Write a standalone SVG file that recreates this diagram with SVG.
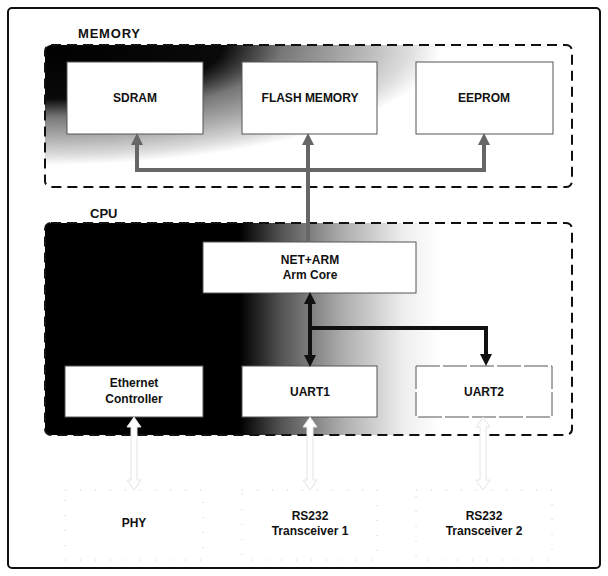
<svg xmlns="http://www.w3.org/2000/svg" width="608" height="576" viewBox="0 0 608 576">
<style>
.lbl{font-family:"Liberation Sans",Arial,sans-serif;font-weight:bold;font-size:12px;fill:#111;text-anchor:middle}
.grp{font-family:"Liberation Sans",Arial,sans-serif;font-weight:bold;font-size:13px;fill:#111}
.box{fill:#fff;stroke:#555;stroke-width:1}
.faint{fill:none;stroke:#ccc;stroke-width:1;stroke-dasharray:1,14}
.dash{stroke:#111;stroke-width:2;stroke-dasharray:10,6}
.busg{fill:none;stroke:#666;stroke-width:4}
.busb{fill:none;stroke:#111;stroke-width:4}
.hollow{fill:#fff;stroke:#e4e4e4;stroke-width:1}
</style>
<defs>
<radialGradient id="gMem" gradientUnits="userSpaceOnUse" cx="45" cy="45" r="120" gradientTransform="translate(45,45) scale(3.3,1) translate(-45,-45)">
<stop offset="0" stop-color="#000"/>
<stop offset="0.45" stop-color="#0a0a0a"/>
<stop offset="0.6" stop-color="#777"/>
<stop offset="0.8" stop-color="#b5b5b5"/>
<stop offset="0.92" stop-color="#ddd"/>
<stop offset="1" stop-color="#fff"/>
</radialGradient>
<linearGradient id="gCpu" x1="0" y1="0" x2="1" y2="0">
<stop offset="0" stop-color="#000"/>
<stop offset="0.37" stop-color="#000"/>
<stop offset="0.45" stop-color="#555"/>
<stop offset="0.56" stop-color="#aaa"/>
<stop offset="0.68" stop-color="#eee"/>
<stop offset="0.75" stop-color="#fff"/>
</linearGradient>
<marker id="ag" viewBox="0 0 12 12" markerUnits="userSpaceOnUse" markerWidth="12" markerHeight="12" refX="5" refY="6" orient="auto-start-reverse">
<path d="M0,0 L12,6 L0,12 z" fill="#666"/>
</marker>
<marker id="ab" viewBox="0 0 12 12" markerUnits="userSpaceOnUse" markerWidth="12" markerHeight="12" refX="5" refY="6" orient="auto-start-reverse">
<path d="M0,0 L12,6 L0,12 z" fill="#111"/>
</marker>
<path id="hol" d="M0,0 L7,10 L3,10 L3,63 L7,63 L0,73 L-7,63 L-3,63 L-3,10 L-7,10 Z"/>
</defs>

<rect x="8" y="8" width="592" height="560" rx="4" fill="#fff" stroke="#111" stroke-width="2"/>

<g id="memory">
<rect x="45" y="45" width="527" height="142" rx="6" fill="url(#gMem)" class="dash"/>
<text class="grp" x="78" y="38" letter-spacing="0.8">MEMORY</text>
</g>
<g id="cpu">
<rect x="45" y="223" width="527" height="212" rx="6" fill="url(#gCpu)" class="dash"/>
<text class="grp" x="90" y="218">CPU</text>
</g>

<g id="sdram"><rect class="box" x="67" y="62" width="136" height="72"/><text class="lbl" x="135" y="102">SDRAM</text></g>
<g id="flash"><rect class="box" x="242" y="62" width="135" height="72"/><text class="lbl" x="310" y="102">FLASH MEMORY</text></g>
<g id="eeprom"><rect class="box" x="416" y="62" width="137" height="72"/><text class="lbl" x="484" y="102">EEPROM</text></g>

<g id="netarm"><rect class="box" x="203" y="242" width="213" height="51"/><text class="lbl" x="310" y="264">NET+ARM</text><text class="lbl" x="310" y="279">Arm Core</text></g>
<g id="ethernet"><rect class="box" x="65" y="366" width="138" height="51"/><text class="lbl" x="134" y="387">Ethernet</text><text class="lbl" x="134" y="403">Controller</text></g>
<g id="uart1"><rect class="box" x="242" y="366" width="135" height="51"/><text class="lbl" x="310" y="396">UART1</text></g>
<g id="uart2"><rect class="box" x="416" y="366" width="136" height="51" stroke-dasharray="24,3"/><text class="lbl" x="484" y="396">UART2</text></g>

<g id="phy"><rect class="faint" x="65" y="490" width="138" height="70"/><text class="lbl" x="134" y="527">PHY</text></g>
<g id="rs232-1"><rect class="faint" x="242" y="490" width="135" height="70"/><text class="lbl" x="310" y="520">RS232</text><text class="lbl" x="310" y="535">Transceiver 1</text></g>
<g id="rs232-2"><rect class="faint" x="416" y="490" width="136" height="70"/><text class="lbl" x="484" y="520">RS232</text><text class="lbl" x="484" y="535">Transceiver 2</text></g>

<g id="connectors">
<path class="busg" d="M137,140 V170 H484 V140" marker-start="url(#ag)" marker-end="url(#ag)"/>
<path class="busg" d="M308,242 V140" marker-end="url(#ag)"/>
<path class="busb" d="M310,299 V360" marker-start="url(#ab)" marker-end="url(#ab)"/>
<path class="busb" d="M310,328 H486 V359" marker-end="url(#ab)"/>
<use href="#hol" class="hollow" x="134" y="417"/>
<use href="#hol" class="hollow" x="310" y="417"/>
<use href="#hol" class="hollow" x="483" y="417"/>
</g>
</svg>
